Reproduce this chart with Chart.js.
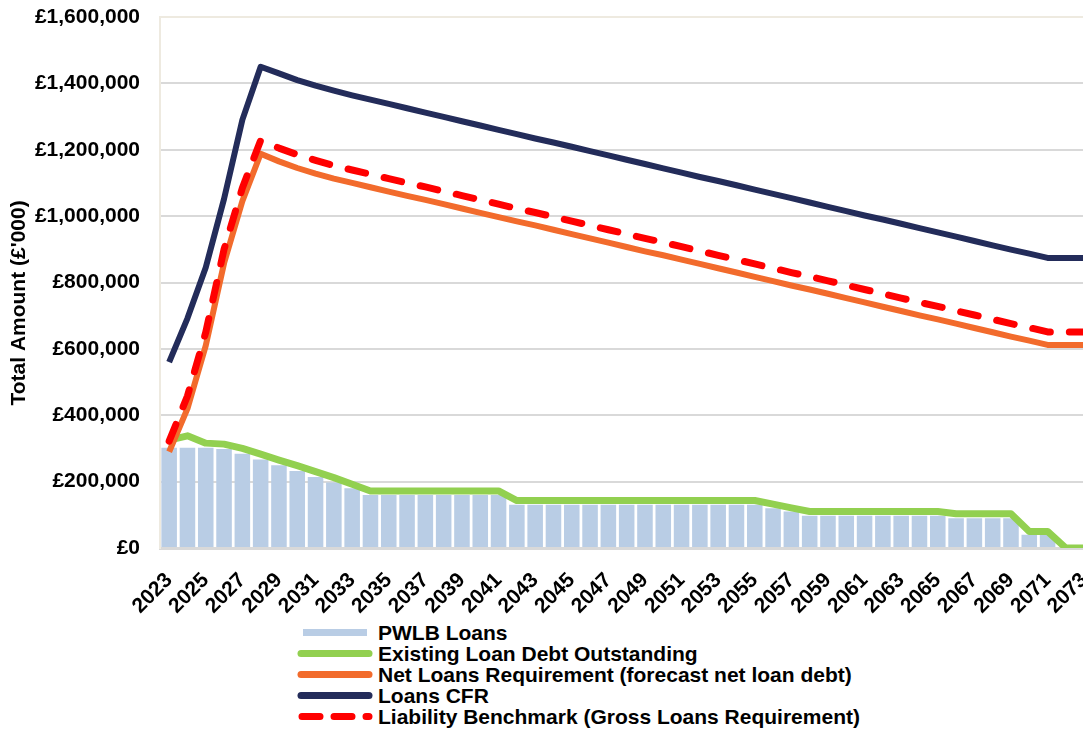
<!DOCTYPE html>
<html>
<head>
<meta charset="utf-8">
<script src="https://cdn.jsdelivr.net/npm/chart.js@4/dist/chart.umd.min.js"></script>
<style>
html,body{margin:0;padding:0;background:#fff;overflow:hidden;width:1083px;height:733px;}
#wrap{position:absolute;left:0;top:0;width:1106px;height:620px;}
#legend{position:absolute;left:296px;top:622px;font:bold 21px "Liberation Sans",Arial,sans-serif;color:#000;}
.row{position:relative;height:21px;line-height:21px;white-space:nowrap;}
.row svg{position:absolute;left:0;top:0;}
.row span{position:absolute;left:82px;top:0;}
</style>
</head>
<body>
<div id="wrap"><canvas id="c" width="1106" height="620"></canvas></div>
<div id="legend"></div>
<script>
const years = ['2023','2024','2025','2026','2027','2028','2029','2030','2031','2032','2033','2034','2035','2036','2037','2038','2039','2040','2041','2042','2043','2044','2045','2046','2047','2048','2049','2050','2051','2052','2053','2054','2055','2056','2057','2058','2059','2060','2061','2062','2063','2064','2065','2066','2067','2068','2069','2070','2071','2072','2073'];

const yTicks = [0,200000,400000,600000,800000,1000000,1200000,1400000,1600000];

const pwlbLoans = [302000,302000,302000,298000,284000,267000,249000,232000,214000,197000,180000,
  160000,160000,160000,160000,160000,160000,160000,160000,
  130000,130000,130000,130000,130000,130000,130000,130000,130000,130000,130000,130000,130000,130000,
  120000,110000,
  97000,97000,97000,97000,97000,97000,97000,97000,
  90000,90000,90000,90000,
  40000,40000,0,0];

const existingDebt = [325000,338000,316000,313000,300000,283000,265000,248000,230000,212000,192000,
  172000,172000,172000,172000,172000,172000,172000,172000,
  143000,143000,143000,143000,143000,143000,143000,143000,143000,143000,143000,143000,143000,143000,
  132000,121000,
  110000,110000,110000,110000,110000,110000,110000,110000,
  103000,103000,103000,103000,
  50000,50000,0,0];

const netLoans = [290000,420000,610000,858000,1045000,1188000,1165000,1145000,1128000,1113000,1100000,
  1087000,1074000,1061000,1049000,1036000,1023000,1010000,997000,984000,972000,
  959000,946000,933000,920000,907000,894000,882000,869000,856000,843000,
  830000,817000,804000,791000,779000,766000,753000,740000,727000,714000,
  701000,689000,676000,663000,650000,637000,625000,612000,612000,612000];

const loansCFR = [560000,692000,845000,1052000,1290000,1450000,1430000,1410000,1393000,1378000,1364000,
  1351000,1338000,1325000,1312000,1299000,1286000,1273000,1260000,1247000,1234000,
  1222000,1209000,1196000,1183000,1170000,1157000,1144000,1131000,1118000,1106000,
  1093000,1080000,1067000,1054000,1041000,1028000,1015000,1002000,990000,977000,
  964000,951000,938000,925000,912000,899000,887000,874000,874000,874000];

const liabilityBenchmark = [322000,458000,650000,900000,1085000,1228000,1205000,1185000,1168000,1152000,1139000,
  1126000,1113000,1100000,1088000,1075000,1062000,1049000,1036000,1023000,1011000,
  998000,985000,972000,959000,946000,933000,921000,908000,895000,882000,
  869000,856000,843000,830000,818000,805000,792000,779000,766000,753000,
  740000,728000,715000,702000,689000,676000,664000,651000,651000,651000];

const seriesNames = ['PWLB Loans','Existing Loan Debt Outstanding','Net Loans Requirement (forecast net loan debt)','Loans CFR','Liability Benchmark (Gross Loans Requirement)'];
const axisTitle = "Total Amount (£'000)";

const FONT = '"Liberation Sans", Arial, sans-serif';
const C_BAR = '#B9CDE5', C_GREEN = '#92D050', C_ORANGE = '#F26B2C', C_NAVY = '#232C5A', C_RED = '#FF0000';

const lineBase = {type:'line', pointRadius:0, pointHoverRadius:0, tension:0, fill:false, borderJoinStyle:'round'};

new Chart(document.getElementById('c'), {
  type: 'bar',
  data: {
    labels: years,
    datasets: [
      Object.assign({}, lineBase, {label: seriesNames[4], data: liabilityBenchmark, borderColor: C_RED, borderWidth: 7, borderDash: [18, 19], borderCapStyle: 'round', order: 1}),
      Object.assign({}, lineBase, {label: seriesNames[3], data: loansCFR, borderColor: C_NAVY, borderWidth: 6, order: 2}),
      Object.assign({}, lineBase, {label: seriesNames[2], data: netLoans, borderColor: C_ORANGE, borderWidth: 6, order: 3}),
      Object.assign({}, lineBase, {label: seriesNames[1], data: existingDebt, borderColor: C_GREEN, borderWidth: 7, order: 4}),
      {type: 'bar', label: seriesNames[0], data: pwlbLoans, backgroundColor: C_BAR, borderWidth: 0, barPercentage: 0.85, categoryPercentage: 1, order: 5}
    ]
  },
  options: {
    responsive: false,
    animation: false,
    layout: {padding: {top: 17, right: 0, left: 0, bottom: 0}},
    plugins: {legend: {display: false}, tooltip: {enabled: false}},
    scales: {
      x: {
        grid: {display: true, drawOnChartArea: false, drawTicks: true, tickLength: 16, tickColor: 'rgba(0,0,0,0)', color: 'rgba(0,0,0,0)'},
        border: {display: true, color: '#D9D9D9', width: 3},
        ticks: {
          autoSkip: false, maxRotation: 45, minRotation: 45, padding: 4, color: '#000',
          font: {family: FONT, size: 21, weight: 'bold'},
          callback: (v, i) => (i % 2 === 0 ? years[i] : '')
        },
        afterFit: s => { s.height = 620 - 548; }
      },
      y: {
        min: 0, max: 1600000,
        afterBuildTicks: s => { s.ticks = yTicks.map(v => ({value: v})); },
        ticks: {
          padding: 0, color: '#000',
          font: {family: FONT, size: 21, weight: 'bold'},
          callback: v => '£' + Number(v).toLocaleString('en-GB')
        },
        grid: {
          color: c => (c.tick && c.tick.value === 1600000 ? '#EEEAE0' : '#D9D9D9'),
          lineWidth: 2, drawTicks: true, tickLength: 20, tickColor: 'rgba(0,0,0,0)'
        },
        border: {display: true, color: '#EEEAE0', width: 2},
        title: {
          display: true, text: axisTitle + '\u00A0\u00A0\u00A0\u00A0\u00A0\u00A0\u00A0', color: '#000',
          font: {family: FONT, size: 21, weight: 'bold'},
          padding: {top: 7, bottom: 0}
        },
        afterFit: s => { s.width = 160; }
      }
    }
  }
});

// HTML legend
const legend = document.getElementById('legend');
const swatches = [
  '<rect x="7" y="7" width="64" height="7" fill="' + C_BAR + '"/>',
  '<line x1="5" y1="10.5" x2="73" y2="10.5" stroke="' + C_GREEN + '" stroke-width="7" stroke-linecap="round"/>',
  '<line x1="5" y1="10.5" x2="73" y2="10.5" stroke="' + C_ORANGE + '" stroke-width="7" stroke-linecap="round"/>',
  '<line x1="5" y1="10.5" x2="73" y2="10.5" stroke="' + C_NAVY + '" stroke-width="7" stroke-linecap="round"/>',
  '<line x1="6" y1="10.5" x2="73" y2="10.5" stroke="' + C_RED + '" stroke-width="7" stroke-linecap="round" stroke-dasharray="18 14"/>'
];
seriesNames.forEach((name, i) => {
  const row = document.createElement('div');
  row.className = 'row';
  row.innerHTML = '<svg width="80" height="21">' + swatches[i] + '</svg><span></span>';
  row.querySelector('span').textContent = name;
  legend.appendChild(row);
});
</script>
</body>
</html>
